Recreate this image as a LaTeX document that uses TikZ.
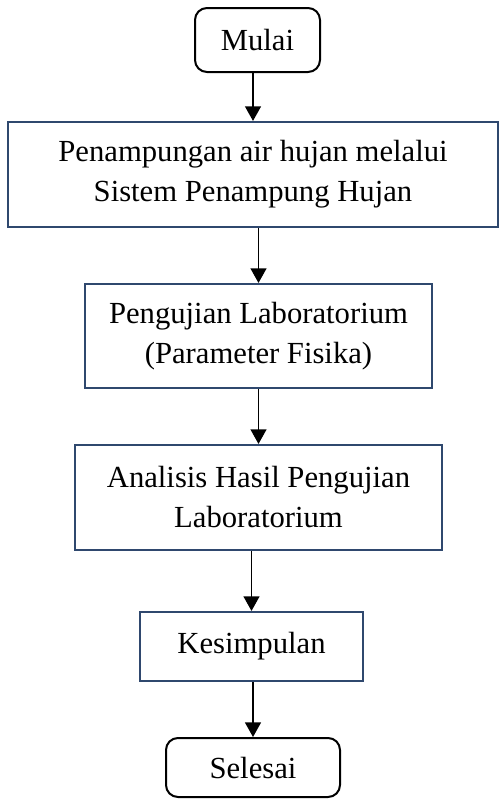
\documentclass[tikz,border=0pt]{standalone}
\usepackage{fontspec}
\setmainfont{Liberation Serif}
\usetikzlibrary{arrows.meta}
\definecolor{navy}{RGB}{47,72,110}
\tikzset{
  procbox/.style={draw=navy, line width=1.6pt, fill=white, align=center, inner sep=0pt,
    font=\fontsize{23}{30}\selectfont},
  termbox/.style={draw=black, line width=1.5pt, rounded corners=9pt, fill=white, align=center, inner sep=0pt,
    font=\fontsize{23}{30}\selectfont},
  arr/.style={line width=1.1pt, -{Triangle[width=12pt,length=11pt]}}
}
\begin{document}
\begin{tikzpicture}[x=0.75pt,y=-0.75pt]
\useasboundingbox (0,0) rectangle (499,800);
\node[termbox, minimum width=93.75pt, minimum height=48pt] (mulai) at (257.5,40) {Mulai};
\node[procbox, minimum width=367.5pt, minimum height=78.75pt] (b1) at (253,174.5) {Penampungan air hujan melalui\\Sistem Penampung Hujan};
\node[procbox, minimum width=260.25pt, minimum height=78pt] (b2) at (258.5,336) {Pengujian Laboratorium\\(Parameter Fisika)};
\node[procbox, minimum width=275.25pt, minimum height=78.75pt] (b3) at (258.5,497.5) {Analisis Hasil Pengujian\\Laboratorium};
\node[procbox, minimum width=167.25pt, minimum height=51.75pt] (b4) at (251.5,646.5) {Kesimpulan};
\node[termbox, minimum width=130.5pt, minimum height=44.25pt] (selesai) at (253,767.5) {Selesai};
\draw[arr] (mulai.south -| b1) -- (b1.north);
\draw[arr] (b1.south -| b2) -- (b2.north);
\draw[arr] (b2.south -| b3) -- (b3.north);
\draw[arr] (b3.south -| b4) -- (b4.north);
\draw[arr] (b4.south -| selesai) -- (selesai.north);
\end{tikzpicture}
\end{document}
